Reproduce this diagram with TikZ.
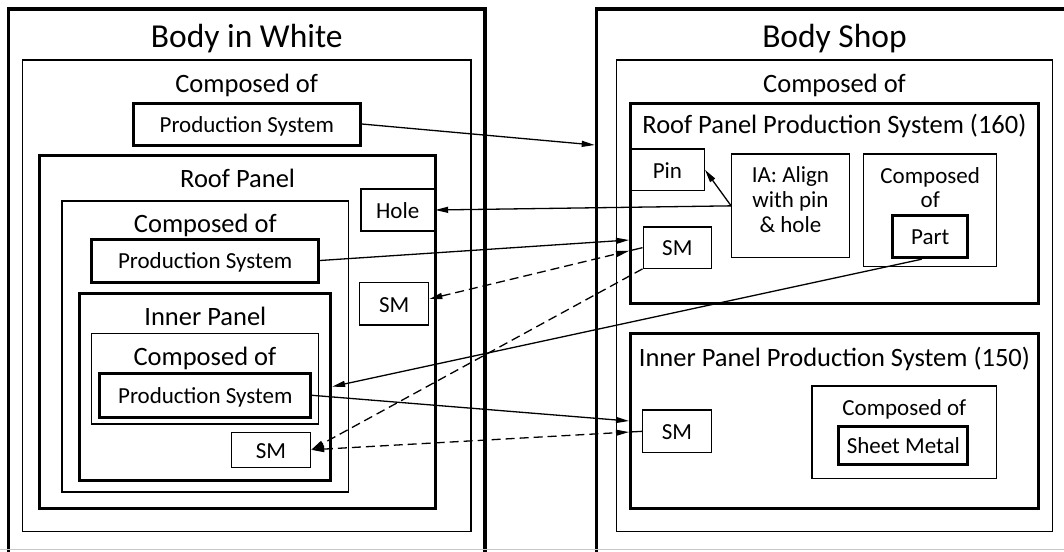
\documentclass[tikz,border=0pt]{standalone}
\usepackage{fontspec}
\setmainfont{Carlito}
\usetikzlibrary{arrows.meta,fit}

\newcommand\ftitle{\fontsize{33.5}{40}\selectfont}
\newcommand\fmid{\fontsize{26.5}{30}\selectfont}
\newcommand\fsmall{\fontsize{23}{25}\selectfont}

\tikzset{
  every node/.style={inner sep=0pt},
  outerbox/.style={draw, line width=3.4pt},
  thickbox/.style={draw, line width=3pt},
  thinbox/.style={draw, line width=1.2pt},
  lbl/.style={font=\fsmall, text height=16.6pt, text depth=0pt},
  sz/.style 2 args={minimum width=#1, minimum height=#2},
  ttl/.style={font=\ftitle, anchor=base},
  midtxt/.style={font=\fmid, anchor=base},
  smalltxt/.style={font=\fsmall, anchor=base},
  tip/.tip={Triangle[length=13pt,width=6pt]},
  link/.style={line width=1.3pt, -tip},
  dlink/.style={line width=1.3pt, dash pattern=on 9pt off 5pt},
  dstub/.style={line width=1.3pt}
}

\begin{document}
\begin{tikzpicture}[x=1pt, y=-1pt]
\useasboundingbox (0,0) rectangle (1064,551);
\clip (0,0) rectangle (1064,551);

% ---------------- Body in White ----------------
\node[outerbox, fit={(8.6,9) (485,600)}] (biw) {};
\node[ttl] (biwt) at (246.8,48) {Body in White};
\node[thinbox, fit={(22.4,60) (471,531.7)}] (biwc) {};
\node[midtxt] (biwct) at (246.7,92) {Composed of};
\node[thickbox, lbl, sz={226.9pt}{42pt}] (ps1) at (246.75,124) {Production System};

\node[thickbox, fit={(39.6,155) (435.6,508)}] (rp) {};
\node[midtxt] (rpt) at (237.6,187) {Roof Panel};
\node[thinbox, lbl, sz={73.7pt}{42pt}] (hole) at (397.75,210) {Hole};
\node[thinbox, fit={(62,201) (348.5,492)}] (rpc) {};
\node[midtxt] (rpct) at (205.3,232) {Composed of};
\node[thickbox, lbl, sz={226.6pt}{43pt}] (ps2) at (205.2,260.5) {Production System};
\node[thinbox, lbl, sz={68.9pt}{42.3pt}] (smr) at (394.25,303.85) {SM};

\node[thickbox, fit={(79.9,293.3) (330.6,480)}] (ip) {};
\node[midtxt] (ipt) at (205.3,325) {Inner Panel};
\node[thinbox, fit={(91.3,333.3) (318.5,424)}] (ipc) {};
\node[midtxt] (ipct) at (204.9,365.7) {Composed of};
\node[thickbox, lbl, sz={210.7pt}{44pt}] (ps3) at (205.25,395.3) {Production System};
\node[thinbox, lbl, sz={79.2pt}{35pt}] (smi) at (271,449.8) {SM};

% ---------------- Body Shop ----------------
\node[outerbox, fit={(596.4,9) (1120,600)}] (bs) {};
\node[ttl] (bst) at (834.5,48) {Body Shop};
\node[thinbox, fit={(616.2,60) (1052.8,531.7)}] (bsc) {};
\node[midtxt] (bsct) at (834.5,92) {Composed of};

\node[thickbox, fit={(630.5,103) (1038.2,303)}] (rpps) {};
\node[midtxt] (rppst) at (834.4,133) {Roof Panel Production System (160)};
\node[thinbox, lbl, sz={73.9pt}{41.7pt}] (pin) at (667.45,169.85) {Pin};
\node[thinbox, fit={(731.7,154) (849.1,257.7)}] (ia) {};
\node[smalltxt] (iat) at (790.4,182)
  {\begin{tabular}[t]{@{}c@{}}IA: Align\\with pin\\\& hole\end{tabular}};
\node[thinbox, fit={(863.8,154) (996.6,266.7)}] (pc) {};
\node[smalltxt] (pct) at (930.2,183)
  {\fontsize{23}{24}\selectfont\begin{tabular}[t]{@{}c@{}}Composed\\of\end{tabular}};
\node[thickbox, lbl, sz={75pt}{42.7pt}] (part) at (930.2,236.35) {Part};
\node[thinbox, lbl, sz={68.5pt}{41.3pt}] (bsm) at (677.35,247.65) {SM};

\node[thickbox, fit={(630.5,333.3) (1038.2,508.3)}] (ipps) {};
\node[midtxt] (ippst) at (834.4,366) {Inner Panel Production System (150)};
\node[thinbox, lbl, sz={69.1pt}{42.7pt}] (bsi) at (676.95,431.35) {SM};
\node[thinbox, fit={(812,386) (996.6,478.3)}] (sc) {};
\node[smalltxt] (sct) at (904.3,415) {Composed of};
\node[thickbox, lbl, sz={128.8pt}{38pt}] (sheet) at (903.3,445) {Sheet Metal};

% ---------------- solid connectors ----------------
\coordinate (bsIn) at (bs.west |- 0,145);
\draw[link] (ps1.east) -- (bsIn);
\draw[link] (ia.west) -- (hole.east);
\draw[link] (ia.west) -- (pin.east);
\coordinate (rppsIn) at (rpps.west |- 0,240);
\draw[link] (ps2.east) -- (rppsIn);
\coordinate (ippsIn) at (ipps.west |- 0,421);
\draw[link] (ps3.east) -- (ippsIn);
\coordinate (partOut) at ([xshift=-8.5pt]part.south);
\draw[link] (partOut) -- (ip.east);

% ---------------- dashed correspondences ----------------
\coordinate (smrEnd) at (smr.east |- 0,299);
\coordinate (d1) at (intersection of smrEnd--bsm.west and rpps.north west--rpps.south west);
\draw[dlink, tip-tip] (smrEnd) -- (d1);
\draw[dstub] (d1) -- (bsm.west);

\draw[dlink, -tip] (bsm.south west) -- (smi.east);

\coordinate (d3) at (intersection of smi.east--bsi.west and ipps.north west--ipps.south west);
\draw[dlink, tip-tip] (smi.east) -- (d3);
\draw[dstub] (d3) -- (bsi.west);

% bottom rule
\draw[black!22, line width=1.2pt] (0,549.2) -- (1064,549.2);
\end{tikzpicture}
\end{document}
